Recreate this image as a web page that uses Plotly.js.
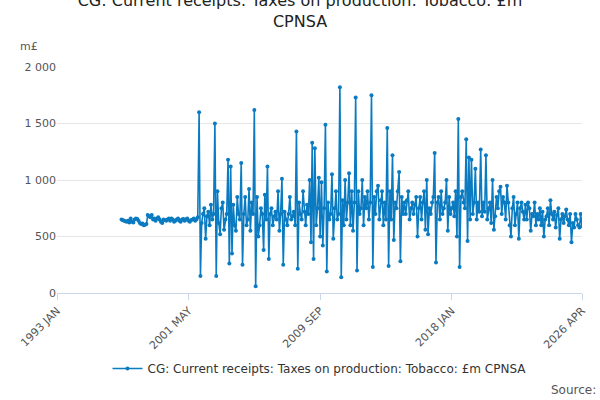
<!DOCTYPE html>
<html><head><meta charset="utf-8">
<script src="https://cdn.plot.ly/plotly-3.0.1.min.js"></script>
<style>body{margin:0}#chart{width:600px;height:400px}</style>
</head><body><div id="chart"></div>
<script>
// monthly values, first value is 1997 Feb
var startYear = 1997, startMonth = 2;
var values = [
  650,645,640,635,630,640,625,660,630,625,650,
  660,655,640,620,610,615,600,605,610,690,680,670,
  690,650,660,640,660,670,650,630,620,650,645,640,
  650,660,640,660,650,630,640,650,660,640,630,650,
  655,640,650,660,640,630,645,650,660,640,650,670,
  1600,150,620,700,750,480,680,720,600,780,650,700,
  1500,150,900,620,520,750,800,560,650,700,1180,260,
  1120,350,780,600,550,850,700,650,1150,250,700,850,
  600,650,920,550,800,700,1620,60,850,500,600,750,
  700,380,870,650,1120,300,700,750,600,680,720,650,
  900,550,700,1010,250,720,650,600,700,850,650,680,
  720,600,1430,215,800,700,650,900,720,600,780,700,
  1000,450,1330,300,1280,600,750,1020,500,980,420,750,
  1490,190,800,650,700,1050,480,750,900,650,700,1820,
  140,820,600,1000,650,800,1060,600,900,550,800,1730,
  200,900,700,750,1000,600,850,750,900,650,800,1750,
  230,850,700,900,950,650,820,900,600,800,650,1460,
  240,900,650,1220,470,800,750,900,1070,280,850,700,
  800,700,820,900,650,750,800,700,780,850,500,750,
  850,650,800,900,560,1000,520,750,700,800,850,1240,
  270,800,850,650,900,700,750,800,1000,550,850,700,
  750,800,680,900,500,1540,230,850,900,800,750,1360,
  460,1200,650,1180,700,800,1100,650,800,720,1270,680,
  800,720,1220,650,750,800,620,1000,560,680,850,750,
  900,940,700,850,800,650,950,800,600,500,750,850,
  600,700,800,480,750,800,720,650,780,650,800,750,
  550,700,680,800,600,700,650,750,600,720,500,650,
  680,750,600,820,700,650,720,580,690,750,480,650,
  700,620,680,740,650,600,700,450,620,580,700,650,
  600,580,700,590
];
var tickDates = ['1993-01-01','2001-05-01','2009-09-01','2018-01-01','2026-04-01'];
var tickLabels = ['1993 JAN','2001 MAY','2009 SEP','2018 JAN','2026 APR'];

var dates = values.map(function(v, i){
  var m = startMonth - 1 + i;
  var y = startYear + Math.floor(m / 12);
  var mm = (m % 12) + 1;
  return y + '-' + (mm < 10 ? '0' + mm : mm) + '-01';
});

Plotly.newPlot('chart', [{
  x: dates, y: values, mode: 'lines+markers',
  name: 'CG: Current receipts: Taxes on production: Tobacco: £m CPNSA',
  line: {color: '#0b7bc1', width: 1.6},
  marker: {color: '#0b7bc1', size: 4}
}], {
  width: 600, height: 400,
  separators: '. ',
  font: {family: 'DejaVu Sans, sans-serif', color: '#444'},
  title: {text: 'CG: Current receipts: Taxes on production: Tobacco: £m<br>CPNSA',
          font: {size: 16, color: '#222'}, x: 0.5, y: 0.985, yanchor: 'top'},
  margin: {l: 57, r: 18, t: 67, b: 107},
  xaxis: {type: 'date', range: ['1993-01-01','2026-04-01'], automargin: false,
          tickvals: tickDates, ticktext: tickLabels, tickangle: -45,
          showgrid: false, showline: true, linecolor: '#ccd6eb',
          ticks: 'outside', tickcolor: '#ccd6eb', ticklen: 6,
          tickfont: {size: 11, color: '#555'}},
  yaxis: {range: [0, 2000], dtick: 500, tickformat: ',d', automargin: false,
          gridcolor: '#e6e6e6', zeroline: false,
          tickfont: {size: 11, color: '#555'}},
  showlegend: true,
  legend: {orientation: 'h', x: 0.5, xanchor: 'center', y: -0.27, yanchor: 'top',
           font: {size: 12, color: '#333'}},
  annotations: [
    {text: 'm£', xref: 'paper', yref: 'paper', x: -0.075, y: 1.055, xanchor: 'left', yanchor: 'bottom',
     showarrow: false, font: {size: 11, color: '#555'}},
    {text: 'Source:', xref: 'paper', yref: 'paper', x: 1.03, y: -0.39, xanchor: 'right', yanchor: 'top',
     showarrow: false, font: {size: 12, color: '#555'}}
  ]
}, {displayModeBar: false});
</script>
</body></html>
